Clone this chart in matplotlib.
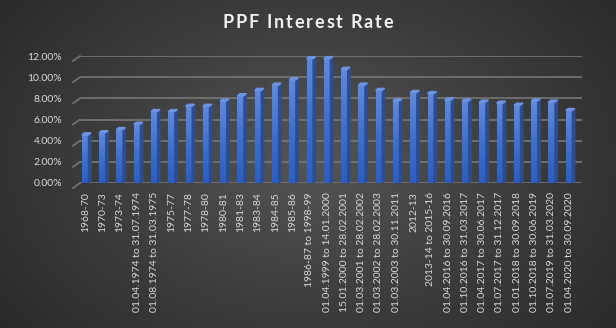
import numpy as np
import matplotlib.pyplot as plt
from matplotlib.colors import LinearSegmentedColormap
from matplotlib.ticker import PercentFormatter
from matplotlib.lines import Line2D

# ── Daten ────────────────────────────────────────────────────────────────
periods = [
    "1968-70", "1970-73", "1973-74",
    "01.04.1974 to 31.07.1974", "01.08.1974 to 31.03.1975",
    "1975-77", "1977-78", "1978-80", "1980-81", "1981-83",
    "1983-84", "1984-85", "1985-86",
    "1986-87 to 1998-99", "01.04.1999 to 14.01.2000",
    "15.01.2000 to 28.02.2001", "01.03.2001 to 28.02.2002",
    "01.03.2002 to 28.02.2003", "01.03.2003 to 30.11.2011",
    "2012-13", "2013-14 to 2015-16",
    "01.04.2016 to 30.09.2016", "01.10.2016 to 31.03.2017",
    "01.04.2017 to 30.06.2017", "01.07.2017 to 31.12.2017",
    "01.01.2018 to 30.09.2018", "01.10.2018 to 30.06.2019",
    "01.07.2019 to 31.03.2020", "01.04.2020 to 30.09.2020",
]
rates = [4.8, 5.0, 5.3, 5.8, 7.0, 7.0, 7.5, 7.5, 8.0, 8.5, 9.0, 9.5, 10.0,
         12.0, 12.0, 11.0, 9.5, 9.0, 8.0, 8.8, 8.7, 8.1, 8.0, 7.9, 7.8,
         7.6, 8.0, 7.9, 7.1]
y_ticks = [0, 2, 4, 6, 8, 10, 12]
title = "PPF Interest Rate"

plt.rcParams["font.family"] = ["Lato", "DejaVu Sans"]

W, H = 616, 328
fig = plt.figure(figsize=(W / 100, H / 100), dpi=100)

# ── Hintergrund (radialer Verlauf) ──────────────────────────────────────
bg = fig.add_axes([0, 0, 1, 1], zorder=-10)
yy, xx = np.mgrid[0:H, 0:W]
r = np.sqrt(((xx - 310) / 430) ** 2 + ((yy - 160) / 300) ** 2)
bg_cmap = LinearSegmentedColormap.from_list("bg", ["#555555", "#3c3c3c", "#262626"])
bg.imshow(np.clip(r, 0, 1), cmap=bg_cmap, vmin=0, vmax=1, aspect="auto",
          extent=[0, 1, 0, 1], origin="upper")
bg.axis("off")

# ── Säulen (leichter 3D-Look) ───────────────────────────────────────────
ax = fig.add_axes([80 / W, 145 / H, 502 / W, 127 / H])
ax.set_facecolor("none")

bar_cmap = LinearSegmentedColormap.from_list("bar", ["#2d5dbf", "#4070cc", "#6189da"])
grad = np.linspace(1, 0, 64).reshape(-1, 1)
w, dx, dy, sink = 0.38, 0.14, 0.19, 0.25
side_c, top_c = "#2a4d96", "#6e93e0"

x = np.arange(len(rates))
for xi, h in zip(x, rates):
    x0, x1 = xi - w / 2, xi + w / 2
    hf = h - sink
    ax.imshow(grad, cmap=bar_cmap, vmin=0, vmax=1, aspect="auto",
              extent=[x0, x1, 0, hf], zorder=3)
    ax.fill([x1, x1 + dx, x1 + dx, x1], [0, dy, hf + dy, hf],
            color=side_c, zorder=3, clip_on=False)
    ax.fill([x0, x0 + dx, x1 + dx, x1], [hf, hf + dy, hf + dy, hf],
            color=top_c, zorder=3, clip_on=False)

ax.set_xlim(-0.3, len(rates) - 0.25)
ax.set_ylim(0, 12)

for v in y_ticks:
    ax.axhline(v, color="#767676", lw=1.2, zorder=1)

ax.set_xticks(x)
ax.set_xticklabels(periods, rotation=90, ha="center", va="top")
ax.set_yticks(y_ticks)
ax.yaxis.set_major_formatter(PercentFormatter(xmax=100, decimals=2))
ax.tick_params(axis="both", length=0, colors="#d9d9d9", labelsize=7.5)
ax.tick_params(axis="y", pad=13)
ax.tick_params(axis="x", pad=6.5)
for s in ax.spines.values():
    s.set_visible(False)

# schräge Bodenlinien links
for v in y_ticks:
    px, py = ax.transData.transform((ax.get_xlim()[0], v))
    fig.add_artist(Line2D([px - 7, px], [py - 5, py], color="#767676",
                          lw=1.2, transform=None))

# ── Titel mit Sperrung ──────────────────────────────────────────────────
renderer = fig.canvas.get_renderer()
spacing = 1.8
chars = []
for ch in title:
    t = fig.text(0, 1 - 22 / H, ch, ha="left", va="center", fontsize=13,
                 fontweight="bold", color="#f2f2f2")
    chars.append((t, t.get_window_extent(renderer).width))
total = sum(cw for _, cw in chars) + spacing * (len(chars) - 1)
cx = 308 - total / 2
for t, cw in chars:
    t.set_x(cx / W)
    cx += cw + spacing

fig.savefig("out.png", dpi=100)
